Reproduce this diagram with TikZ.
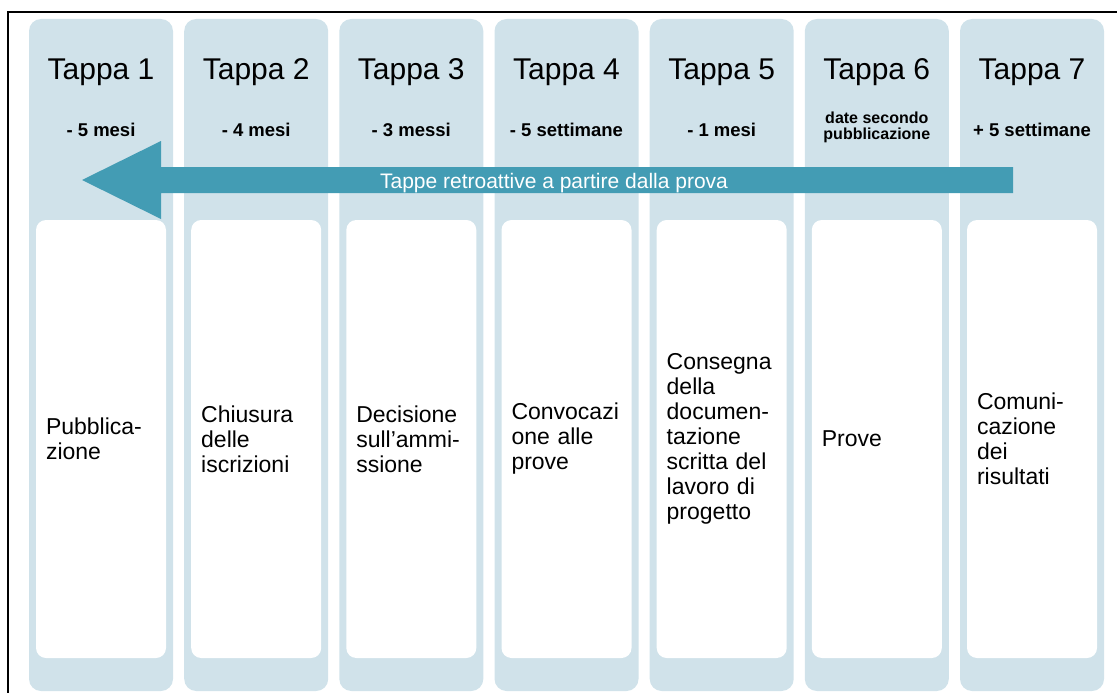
\documentclass[tikz,border=0pt]{standalone}
\usepackage{fontspec}
\setmainfont{Liberation Sans}
\definecolor{colbg}{RGB}{208,226,234}
\definecolor{arrowc}{RGB}{67,156,180}
\begin{document}
\begin{tikzpicture}[x=1pt,y=-1pt,
  col/.style={fill=colbg, draw=none, rounded corners=12pt, minimum width=144pt, minimum height=672pt, inner sep=0pt},
  card/.style={fill=white, draw=none, rounded corners=10pt, minimum width=130pt, minimum height=438pt, inner xsep=10pt, inner ysep=0pt, text width=110pt, align=left, font=\fontsize{23}{25}\selectfont},
  title/.style={anchor=base, font=\fontsize{30}{32}\selectfont},
  when/.style={anchor=base, font=\fontsize{18.5}{20}\selectfont\bfseries},
  whensmall/.style={anchor=base, font=\fontsize{16}{17}\selectfont\bfseries},
  frameline/.style={line width=2.5pt, black},
  arrowtext/.style={anchor=base, text=white, font=\fontsize{21}{22}\selectfont},
]
\useasboundingbox (0,0) rectangle (1117,693);
% frame
\draw[frameline] (8,710) -- (8,12) -- (1140,12);
% columns
\node[col] (c1) at (101,355) {};
\node[col] (c2) at (256.2,355) {};
\node[col] (c3) at (411.3,355) {};
\node[col] (c4) at (566.5,355) {};
\node[col] (c5) at (721.7,355) {};
\node[col] (c6) at (876.8,355) {};
\node[col] (c7) at (1032,355) {};
% titles
\node[title] (t1) at (101,80) {Tappa 1};
\node[title] (t2) at (256.2,80) {Tappa 2};
\node[title] (t3) at (411.3,80) {Tappa 3};
\node[title] (t4) at (566.5,80) {Tappa 4};
\node[title] (t5) at (721.7,80) {Tappa 5};
\node[title] (t6) at (876.8,80) {Tappa 6};
\node[title] (t7) at (1032,80) {Tappa 7};
% timing
\node[when] (w1) at (101,136) {- 5 mesi};
\node[when] (w2) at (256.2,136) {- 4 mesi};
\node[when] (w3) at (411.3,136) {- 3 messi};
\node[when] (w4) at (566.5,136) {- 5 settimane};
\node[when] (w5) at (721.7,136) {- 1 mesi};
\node[whensmall] (w6a) at (876.8,123) {date secondo};
\node[whensmall] (w6b) at (876.8,139.5) {pubblicazione};
\node[when] (w7) at (1032,136) {+ 5 settimane};
% cards
\node[card] (k1) at (101,439) {Pubblica-\\zione};
\node[card] (k2) at (256.2,439) {Chiusura\\delle\\iscrizioni};
\node[card] (k3) at (411.3,439) {Decisione\\sull’ammi-\\ssione};
\node[card] (k4) at (566.5,439) {Convocazi\\one alle\\prove};
\node[card] (k5) at (721.7,439) {Consegna\\della\\documen-\\tazione\\scritta del\\lavoro di\\progetto};
\node[card] (k6) at (876.8,439) {Prove};
\node[card] (k7) at (1032,439) {Comuni-\\cazione\\dei\\risultati};
% arrow
\fill[arrowc] (1013,167) -- (161,167) -- (161,141) -- (82,180) -- (161,219) -- (161,193) -- (1013,193) -- cycle;
\node[arrowtext] (at) at (554,188) {Tappe retroattive a partire dalla prova};
\end{tikzpicture}
\end{document}
